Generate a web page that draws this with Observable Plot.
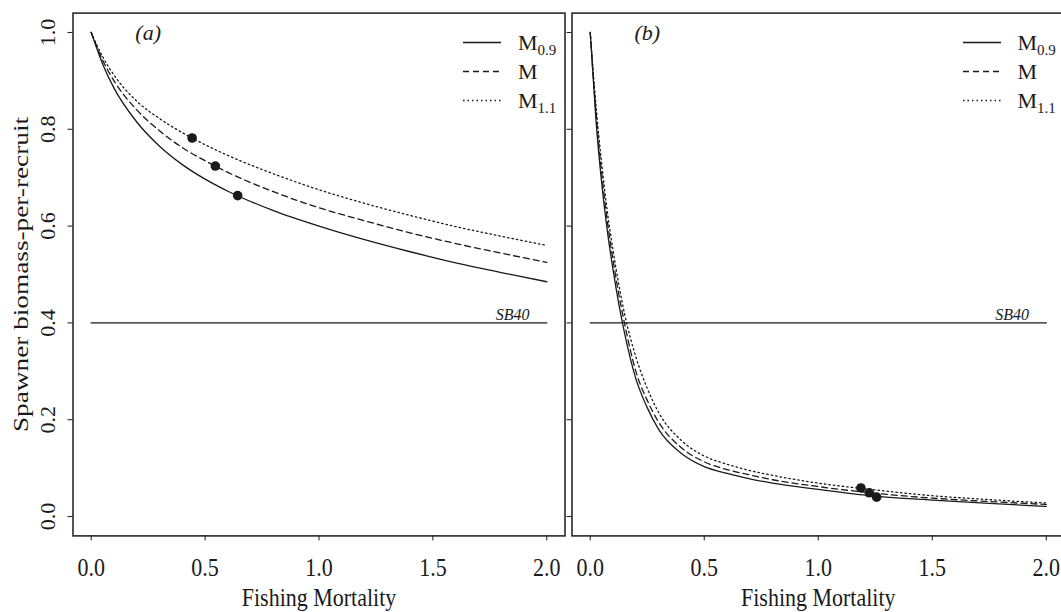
<!DOCTYPE html>
<html><head><meta charset="utf-8">
<script src="https://cdn.jsdelivr.net/npm/d3@7"></script>
<script src="https://cdn.jsdelivr.net/npm/@observablehq/plot@0.6"></script>
<style>
html,body{margin:0;padding:0;background:#fff;}
#wrap{position:relative;width:1061px;height:612px;overflow:hidden;font-family:"Liberation Serif","Times New Roman",serif;color:#1a1a1a;}
.panel{position:absolute;top:0;}
.panel svg{max-width:none !important;display:block;}
.legend{position:absolute;font-size:22px;line-height:29px;}
.row{display:flex;align-items:center;height:29px;}
.row svg{display:block;}
.row span{margin-left:17px;white-space:nowrap;}
.row sub{font-size:15px;vertical-align:-5px;line-height:0;}
</style></head>
<body><div id="wrap"></div>
<script>
// ---- data ----
const seriesKeys = ["M0.9", "M", "M1.1"];
const seriesBase = ["M", "M", "M"];
const seriesSub = ["0.9", "", "1.1"];
const seriesDash = ["none", "6,4", "1.5,3"];
const xTicks = [0, 0.5, 1, 1.5, 2];
const yTicks = [0, 0.2, 0.4, 0.6, 0.8, 1];
const panelLabels = ["(a)", "(b)"];
const refLabel = "SB40";
const refLevel = 0.4;
const refF = [0, 2];

// panel (a)
const F_a = [0, 0.05, 0.1, 0.2, 0.3, 0.4, 0.5, 0.6, 0.8, 1.0, 1.2, 1.4, 1.6, 1.8, 2.0];
const a_M09 = [1.00, 0.935, 0.885, 0.815, 0.765, 0.727, 0.697, 0.672, 0.632, 0.600, 0.572, 0.547, 0.524, 0.504, 0.485];
const a_M   = [1.00, 0.943, 0.900, 0.840, 0.797, 0.762, 0.735, 0.711, 0.671, 0.638, 0.611, 0.586, 0.564, 0.544, 0.525];
const a_M11 = [1.00, 0.950, 0.912, 0.858, 0.822, 0.793, 0.768, 0.746, 0.708, 0.675, 0.647, 0.622, 0.599, 0.579, 0.560];
const a_ptF = [0.643, 0.545, 0.443];
const a_ptY = [0.663, 0.724, 0.782];

// panel (b)
const F_b = [0, 0.025, 0.05, 0.075, 0.1, 0.125, 0.15, 0.2, 0.25, 0.3, 0.4, 0.5, 0.6, 0.7, 0.8, 1.0, 1.25, 1.5, 1.75, 2.0];
const b_M09 = [1.00, 0.820, 0.690, 0.590, 0.510, 0.440, 0.380, 0.285, 0.225, 0.180, 0.130, 0.103, 0.089, 0.078, 0.069, 0.056, 0.042, 0.034, 0.027, 0.021];
const b_M   = [1.00, 0.835, 0.710, 0.610, 0.530, 0.460, 0.400, 0.300, 0.240, 0.195, 0.142, 0.113, 0.097, 0.086, 0.076, 0.062, 0.048, 0.038, 0.031, 0.025];
const b_M11 = [1.00, 0.850, 0.730, 0.630, 0.550, 0.480, 0.420, 0.330, 0.265, 0.215, 0.157, 0.125, 0.108, 0.095, 0.085, 0.069, 0.055, 0.043, 0.035, 0.028];
const b_ptF = [1.256, 1.224, 1.187];
const b_ptY = [0.040, 0.049, 0.059];

const panels = [
  {F: F_a, ys: [a_M09, a_M, a_M11], ptF: a_ptF, ptY: a_ptY, label: panelLabels[0]},
  {F: F_b, ys: [b_M09, b_M, b_M11], ptF: b_ptF, ptY: b_ptY, label: panelLabels[1]}
];

const ink = "#1a1a1a";
const fontFamily = '"Liberation Serif","Times New Roman",serif';

function makePanel(p, idx, geom) {
  const marks = [];
  p.ys.forEach((ys, i) => {
    const rows = p.F.map((f, j) => ({F: f, SPR: ys[j]}));
    marks.push(Plot.line(rows, {x: "F", y: "SPR", curve: "monotone-x", stroke: ink, strokeWidth: 1.3,
      strokeDasharray: seriesDash[i] === "none" ? null : seriesDash[i]}));
  });
  marks.push(Plot.line(refF.map(f => ({F: f, SPR: refLevel})), {x: "F", y: "SPR", stroke: ink, strokeWidth: 1.3}));
  marks.push(Plot.text([{F: 1.85, SPR: refLevel}], {x: "F", y: "SPR", text: () => refLabel, lineAnchor: "bottom", dy: -3, fontStyle: "italic", fontSize: 16, fill: ink}));
  marks.push(Plot.dot(p.ptF.map((f, j) => ({F: f, SPR: p.ptY[j]})), {x: "F", y: "SPR", r: 4.8, fill: ink, stroke: "none"}));
  marks.push(Plot.text([{F: 0.25, SPR: 1.0}], {x: "F", y: "SPR", text: () => p.label, fontStyle: "italic", fontSize: 22, fill: ink}));
  marks.push(Plot.frame({stroke: "#2a2a2a", strokeWidth: 1.6}));
  marks.push(Plot.axisX({ticks: xTicks, tickFormat: d3.format(".1f"), tickSize: 5, tickPadding: 17,
    label: "Fishing Mortality", labelAnchor: "center", labelArrow: "none", labelOffset: 69.6, fontSize: 22, stroke: ink, fill: ink}));
  if (idx === 0) {
    marks.push(Plot.axisY({ticks: yTicks, tickFormat: d3.format(".1f"), tickRotate: -90, tickSize: 5, tickPadding: 13,
      label: "Spawner biomass-per-recruit", labelAnchor: "center", labelArrow: "none", labelOffset: 60.4, fontSize: 22, stroke: ink, fill: ink}));
  } else {
    marks.push(Plot.axisY({ticks: yTicks, tickFormat: () => "", tickSize: 5, label: null, stroke: ink}));
  }
  const svg = Plot.plot({
    width: geom.width, height: 612,
    marginLeft: geom.ml, marginRight: geom.mr, marginTop: 12.6, marginBottom: 76.6,
    x: {domain: [-0.08, 2.08]},
    y: {domain: [-0.04, 1.04]},
    style: {fontFamily, fontSize: "22px", color: ink, background: "transparent", overflow: "visible", maxWidth: "none"},
    marks
  });
  return svg;
}

// the reference typesetting is vertically elongated; emulate by stretching text about its anchor
function stretch(svg, aria, s) {
  svg.querySelectorAll(`g[aria-label="${aria}"] text`).forEach(t => {
    const tr = t.getAttribute("transform");
    if (tr && tr.startsWith("translate(")) {
      const i = tr.indexOf(")") + 1;
      t.setAttribute("transform", tr.slice(0, i) + ` scale(1,${s})` + tr.slice(i));
    } else {
      const x0 = parseFloat(t.getAttribute("x")) || 0;
      const yA = t.getAttribute("y");
      const y0 = yA && !/em/.test(yA) ? parseFloat(yA) : 0;
      t.setAttribute("transform", `translate(${x0},${y0}) scale(1,${s}) translate(${-x0},${-y0})`);
    }
  });
}

const wrap = document.getElementById("wrap");
const geoms = [
  {left: 0, width: 567, ml: 72.5, mr: 2.5, frameRight: 564.5},
  {left: 560, width: 507, ml: 11.5, mr: 3, frameRight: 1064}
];
panels.forEach((p, idx) => {
  const g = geoms[idx];
  const chart = makePanel(p, idx, g);
  stretch(chart, "x-axis tick label", 1.18);
  stretch(chart, "x-axis label", 1.18);
  stretch(chart, "y-axis label", 1.24);
  const div = document.createElement("div");
  div.className = "panel";
  div.style.left = g.left + "px";
  div.style.width = g.width + "px";
  div.appendChild(chart);
  wrap.appendChild(div);

  // legend
  const lg = document.createElement("div");
  lg.className = "legend";
  lg.style.left = (g.frameRight - 101.5) + "px";
  lg.style.top = (42.7 - 14.5) + "px";
  seriesKeys.forEach((k, i) => {
    const row = document.createElement("div");
    row.className = "row";
    const dash = seriesDash[i] === "none" ? "" : `stroke-dasharray="${seriesDash[i]}"`;
    row.innerHTML = `<svg width="38" height="29"><line x1="0" x2="38" y1="14.5" y2="14.5" stroke="${ink}" stroke-width="1.3" ${dash}/></svg>` +
      `<span>${seriesBase[i]}${seriesSub[i] ? `<sub>${seriesSub[i]}</sub>` : ""}</span>`;
    lg.appendChild(row);
  });
  wrap.appendChild(lg);
});
</script>
</body></html>
